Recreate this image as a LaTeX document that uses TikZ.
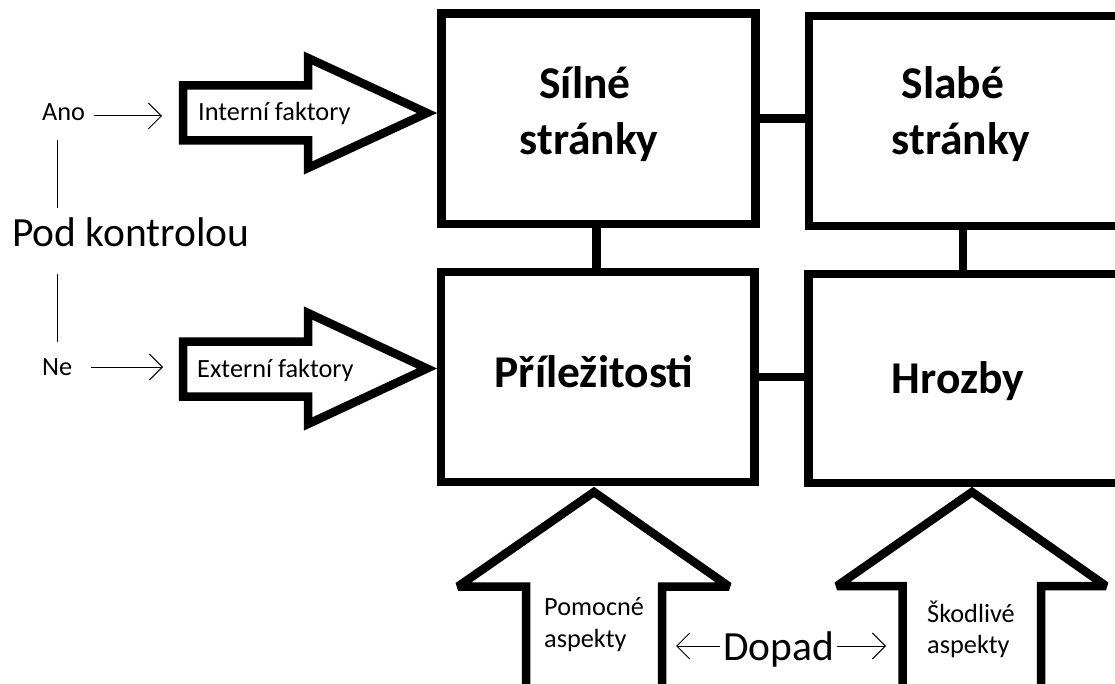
\documentclass[tikz,border=0pt]{standalone}
\usepackage{fontspec}
\setmainfont{Carlito}
\usetikzlibrary{arrows.meta}
\begin{document}
\begin{tikzpicture}[x=1pt,y=-1pt,
  box/.style={draw=black, line width=8.5pt, rectangle, inner sep=0pt, outer sep=0pt},
  conn/.style={draw=black, line width=8.5pt},
  blockarrow/.style={draw=black, line width=8.5pt, line join=miter, miter limit=3, fill=white},
  big/.style={font=\bfseries\fontsize{45.5}{54}\selectfont, inner sep=0pt},
  lbl/.style={font=\fontsize{26.3}{31}\selectfont, inner sep=0pt},
  mid/.style={font=\fontsize{41.5}{50}\selectfont, inner sep=0pt},
  thinarrow/.style={draw=black, line width=1pt, -{Straight Barb[length=13pt,width=26pt]}},
  thinline/.style={draw=black, line width=1pt}
]
\useasboundingbox (0,0) rectangle (1115,684);
\clip (0,0) rectangle (1115,684);
\fill[white] (0,0) rectangle (1115,684);

% boxes
\node[box, minimum width=314pt, minimum height=210.5pt] (S) at (598.5,118.75) {};
\node[box, minimum width=316pt, minimum height=210pt] (W) at (967,121) {};
\node[box, minimum width=313.5pt, minimum height=210pt] (O) at (597.75,377) {};
\node[box, minimum width=316.5pt, minimum height=209pt] (T) at (966.75,378.5) {};

% connectors between boxes
\draw[conn] (S.east) -- (S.east -| W.west);
\draw[conn] ([xshift=-2pt]S.south) -- ([xshift=-2pt]S.south |- O.north);
\draw[conn] ([xshift=-4pt]W.south) -- ([xshift=-4pt]W.south |- T.north);
\draw[conn] (O.east) -- (O.east -| T.west);

% box texts
\node[big, anchor=base] (s1) at (585,99) {Sílné};
\node[big, anchor=base] (s2) at (589,155) {stránky};
\node[big, anchor=base] (w1) at (953,99) {Slabé};
\node[big, anchor=base] (w2) at (961,155) {stránky};
\node[big, anchor=base] (o1) at (594,387) {Příležitosti};
\node[big, anchor=base] (t1) at (958,393) {Hrozby};

% left block arrows
\draw[blockarrow] (183,85.5) -- (308,85.5) -- (308,58) -- (427,113) -- (308,168) -- (308,140.5) -- (183,140.5) -- cycle;
\draw[blockarrow] (183,341.5) -- (308,341.5) -- (308,313) -- (427,368.5) -- (308,424) -- (308,396.5) -- (183,396.5) -- cycle;
\node[lbl, anchor=base west] (int) at (198,121) {Interní faktory};
\node[lbl, anchor=base west] (ext) at (197,377) {Externí faktory};

% bottom block arrows
\draw[blockarrow] (526,700) -- (526,586.5) -- (458,586.5) -- (594,492) -- (729,586.5) -- (662,586.5) -- (662,700);
\draw[blockarrow] (902.5,700) -- (902.5,586) -- (837,586) -- (972,492) -- (1106,586) -- (1041,586) -- (1041,700);
\node[lbl, anchor=base west] (pom1) at (544,615) {Pomocné};
\node[lbl, anchor=base west] (pom2) at (544,647) {aspekty};
\node[lbl, anchor=base west] (sko1) at (927,622) {Škodlivé};
\node[lbl, anchor=base west] (sko2) at (927,653) {aspekty};

% left labels
\node[lbl, anchor=base west] (ano) at (42,121) {Ano};
\node[lbl, anchor=base west] (ne) at (42,375) {Ne};
\node[mid, anchor=base west] (pod) at (12,247) {Pod kontrolou};
\node[mid, anchor=base] (dopad) at (778.5,660) {Dopad};

\coordinate (anoA) at (94,116);
\coordinate (anoB) at (162,116);
\coordinate (neA) at (91,367);
\coordinate (neB) at (163,367);
\draw[thinarrow] (anoA) -- (anoB);
\draw[thinarrow] (neA) -- (neB);

\coordinate (vTopA) at (57,140);
\coordinate (vTopB) at (57,208);
\coordinate (vBotA) at (57,274);
\coordinate (vBotB) at (57,342);
\draw[thinline] (vTopA) -- (vTopB);
\draw[thinline] (vBotA) -- (vBotB);

\coordinate (dL1) at (720,646);
\coordinate (dL0) at (676,646);
\coordinate (dR0) at (837,646);
\coordinate (dR1) at (886,646);
\draw[thinarrow] (dL1) -- (dL0);
\draw[thinarrow] (dR0) -- (dR1);
\end{tikzpicture}
\end{document}
